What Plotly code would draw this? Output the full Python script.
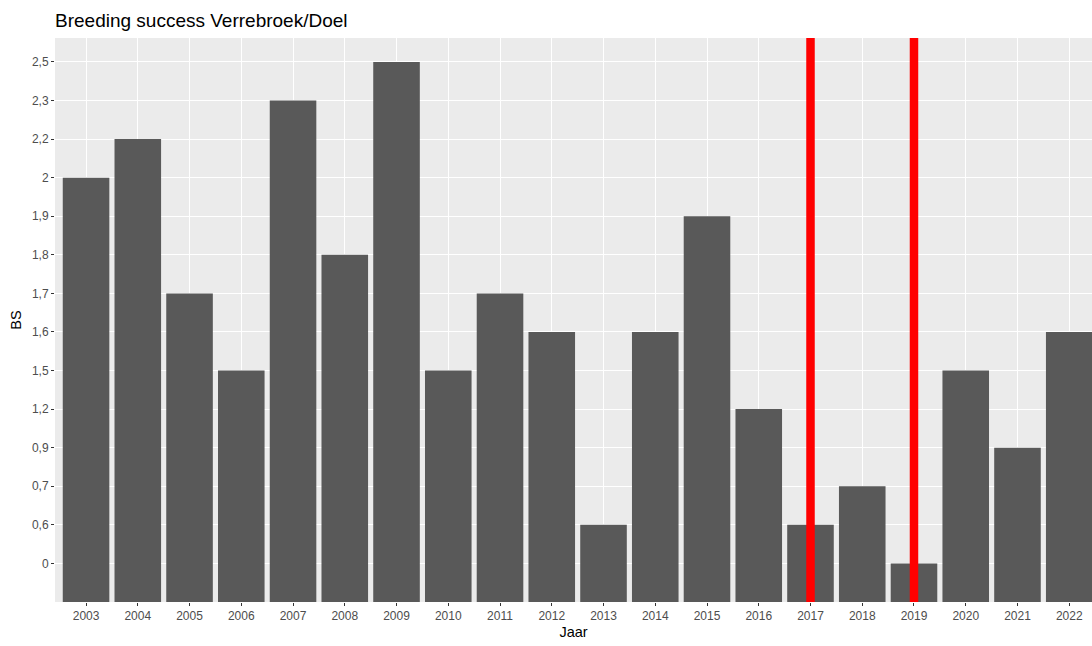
import plotly.graph_objects as go

years = list(range(2003, 2023))
bs_values = ["2", "2,2", "1,7", "1,5", "2,3", "1,8", "2,5", "1,5", "1,7", "1,6",
             "0,6", "1,6", "1,9", "1,2", "0,6", "0,7", "0", "1,5", "0,9", "1,6"]
bs_levels = ["0", "0,6", "0,7", "0,9", "1,2", "1,5", "1,6", "1,7", "1,8", "1,9",
             "2", "2,2", "2,3", "2,5"]
vline_years = [2017, 2019]

level_pos = {lab: i + 1 for i, lab in enumerate(bs_levels)}
y_pos = [level_pos[v] for v in bs_values]

font = "Liberation Sans, Arial, sans-serif"

fig = go.Figure()
fig.add_trace(go.Bar(
    x=years, y=y_pos, width=0.9,
    marker=dict(color="#595959", line=dict(width=0)),
    hovertext=bs_values, showlegend=False,
))

for yr in vline_years:
    fig.add_shape(type="line", xref="x", yref="paper", x0=yr, x1=yr, y0=0, y1=1,
                  line=dict(color="#FF0000", width=8.5), layer="above")

fig.update_layout(
    width=1092, height=646,
    margin=dict(l=55, r=0, t=38, b=44),
    paper_bgcolor="white", plot_bgcolor="#EBEBEB",
    title=dict(text="Breeding success Verrebroek/Doel", x=55 / 1092, xanchor="left",
               y=1 - 20 / 646, yanchor="middle",
               font=dict(family=font, size=19, color="black")),
    bargap=0.1,
)
fig.update_xaxes(
    range=[2002.4, 2022.44], tickmode="array", tickvals=years,
    ticktext=[str(y) for y in years], automargin=False,
    showgrid=True, gridcolor="white", gridwidth=1.1, zeroline=False,
    ticks="outside", ticklen=3, tickcolor="#333333", tickwidth=1,
    tickfont=dict(family=font, size=12, color="#4D4D4D"),
    title=dict(text="Jaar", font=dict(family=font, size=14.5, color="black"), standoff=4),
    showline=False,
)
fig.update_yaxes(
    range=[0, 14.62], tickmode="array", tickvals=list(range(1, len(bs_levels) + 1)),
    ticktext=bs_levels, automargin=False,
    showgrid=True, gridcolor="white", gridwidth=1.1, zeroline=False,
    ticks="outside", ticklen=3, tickcolor="#333333", tickwidth=1,
    tickfont=dict(family=font, size=12, color="#4D4D4D"),
    title=dict(text="BS", font=dict(family=font, size=14.5, color="black"), standoff=6),
    showline=False,
)

fig.write_html("out.html", config={"displayModeBar": False},
               post_script="document.body.style.margin='0';document.body.style.overflow='hidden';")
